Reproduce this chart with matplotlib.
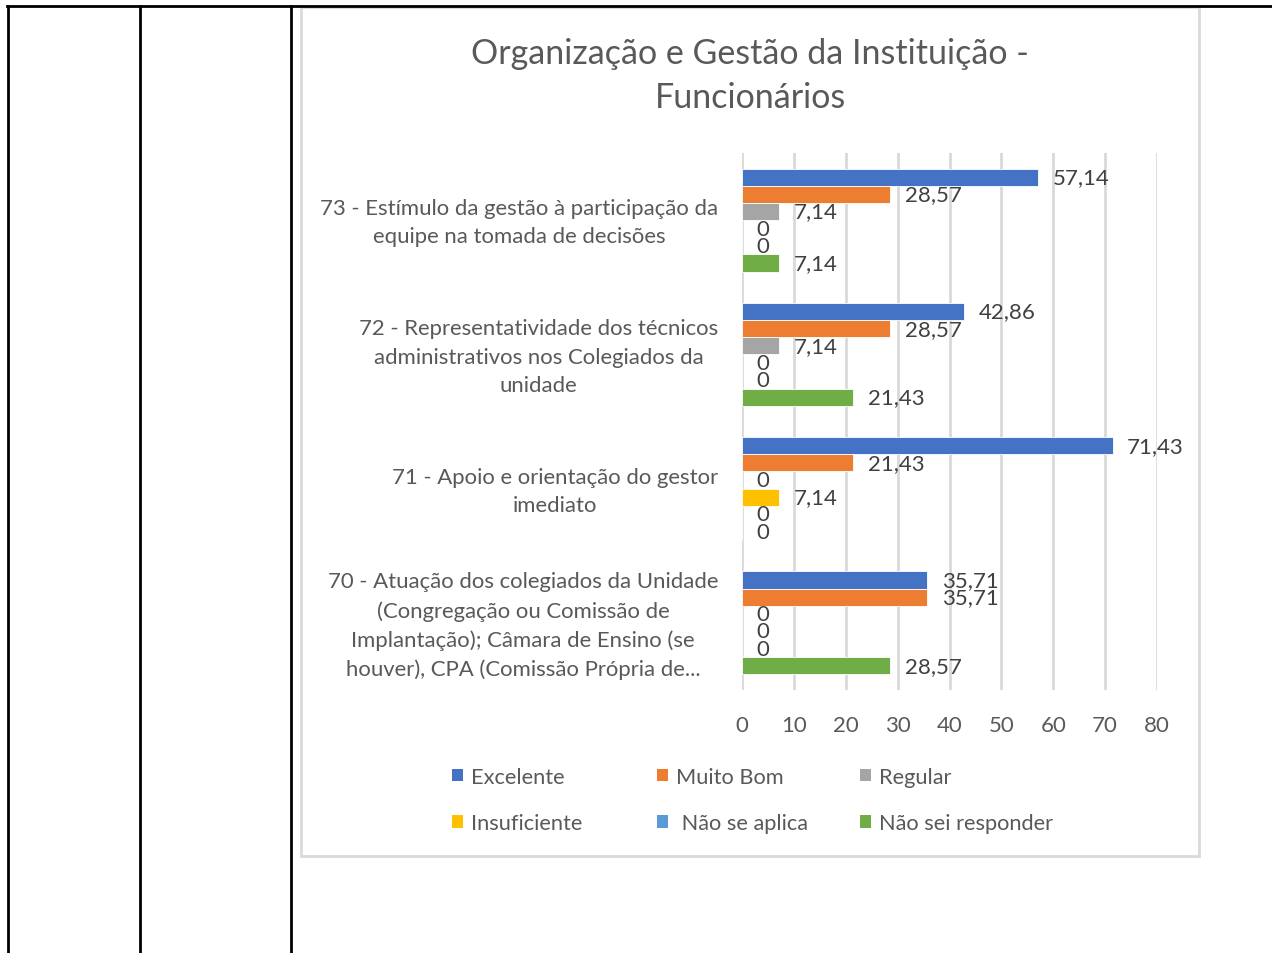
import matplotlib
matplotlib.use("Agg")
import matplotlib.pyplot as plt
import matplotlib.transforms as mtransforms
from matplotlib.lines import Line2D
from matplotlib.patches import Rectangle, Patch

plt.rcParams['font.family'] = ['Lato', 'DejaVu Sans']

# questions, bottom to top as drawn on the axis
questions = [
    "70 - Atuação dos colegiados da Unidade\n(Congregação ou Comissão de\nImplantação); Câmara de Ensino (se\nhouver), CPA (Comissão Própria de...",
    "71 - Apoio e orientação do gestor\nimediato",
    "72 - Representatividade dos técnicos\nadministrativos nos Colegiados da\nunidade",
    "73 - Estímulo da gestão à participação da\nequipe na tomada de decisões",
]

series_names = ["Excelente", "Muito Bom", "Regular", "Insuficiente", " Não se aplica", "Não sei responder"]
series_colors = ["#4472C4", "#ED7D31", "#A5A5A5", "#FFC000", "#5B9BD5", "#70AD47"]

# percentages per series, same order as questions (70, 71, 72, 73)
excelente = [35.71, 71.43, 42.86, 57.14]
muito_bom = [35.71, 21.43, 28.57, 28.57]
regular = [0, 0, 7.14, 7.14]
insuficiente = [0, 7.14, 0, 0]
nao_se_aplica = [0, 0, 0, 0]
nao_sei = [28.57, 0, 21.43, 7.14]

x_ticks = [0, 10, 20, 30, 40, 50, 60, 70, 80]

all_series = [excelente, muito_bom, regular, insuficiente, nao_se_aplica, nao_sei]

W, H = 1272, 954
fig = plt.figure(figsize=(W / 100, H / 100), dpi=100)

# table borders around the chart
def fig_line(x0, y0, x1, y1, **kw):
    fig.add_artist(Line2D([x0 / W, x1 / W], [1 - y0 / H, 1 - y1 / H],
                          transform=fig.transFigure, **kw))

fig_line(7, 7, W, 7, color="black", lw=2)
for xv in (8, 140, 291):
    fig_line(xv, 7, xv, H, color="black", lw=2)

# chart frame
fig.add_artist(Rectangle((301 / W, 1 - 857 / H), (1199 - 301) / W, (857 - 8) / H,
                         transform=fig.transFigure, fill=False,
                         edgecolor="#D9D9D9", lw=2))

fig.text(750 / W, 1 - 76 / H, "Organização e Gestão da Instituição -\nFuncionários",
         ha="center", va="center", fontsize=24.5, color="#595959", linespacing=1.5)

ax = fig.add_axes([742 / W, 1 - 691 / H, (1157 - 742) / W, (691 - 154) / H])

bar_h = 0.128
for j, vals in enumerate(all_series):
    ys = [i + (2.5 - j) * bar_h for i in range(len(questions))]
    b = ax.barh(ys, vals, height=bar_h, color=series_colors[j],
                edgecolor="white", linewidth=0.6, label=series_names[j], zorder=3)
    labels = ["0" if v == 0 else f"{v:.2f}".replace(".", ",") for v in vals]
    ax.bar_label(b, labels=labels, padding=10.5, fontsize=16, color="#404040")

ax.set_xlim(0, 80)
ax.set_ylim(-0.5, len(questions) - 0.5)
ax.set_xticks(x_ticks)
ax.set_xticklabels([str(t) for t in x_ticks])
ax.set_yticks(range(len(questions)))
ax.set_yticklabels(questions, multialignment="center", fontsize=15.9, color="#595959",
                   linespacing=1.52)
ax.tick_params(axis="y", length=0, pad=17)
ax.tick_params(axis="x", length=0, pad=18, labelsize=16, labelcolor="#595959")
# nudge the question labels up a little
lift = mtransforms.ScaledTranslation(0, 4 / 100, fig.dpi_scale_trans)
for lbl in ax.get_yticklabels():
    lbl.set_transform(lbl.get_transform() + lift)
ax.grid(axis="x", color="#D9D9D9", lw=2, zorder=0)
for s in ax.spines.values():
    s.set_visible(False)

# legend: three columns, two rows each
columns = [(0, 3, 452), (1, 4, 657), (2, 5, 860)]
for top, bottom, x_px in columns:
    hs = [Patch(facecolor=series_colors[k], edgecolor="none") for k in (top, bottom)]
    fig.legend(hs, [series_names[top], series_names[bottom]],
               loc="center left", bbox_to_anchor=(x_px / W, 1 - 801 / H),
               frameon=False, fontsize=15.7, labelcolor="#595959",
               handlelength=0.5, handleheight=0.5, handletextpad=0.37,
               labelspacing=1.2, borderpad=0, borderaxespad=0)

fig.savefig("out.png", dpi=100)
